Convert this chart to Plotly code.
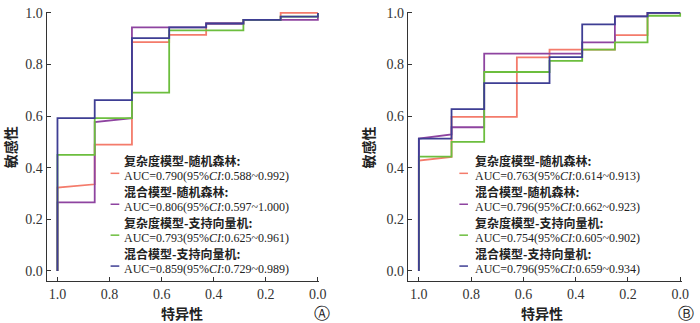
import plotly.graph_objects as go

# ---------------- data ----------------
series_names = ["复杂度模型-随机森林:", "混合模型-随机森林:", "复杂度模型-支持向量机:", "混合模型-支持向量机:"]
series_colors = ["#F47B6B", "#8E44A0", "#6CBE3E", "#3E3E94"]

auc_text_A = ["AUC=0.790(95%<i>CI</i>:0.588~0.992)", "AUC=0.806(95%<i>CI</i>:0.597~1.000)",
              "AUC=0.793(95%<i>CI</i>:0.625~0.961)", "AUC=0.859(95%<i>CI</i>:0.729~0.989)"]
auc_text_B = ["AUC=0.763(95%<i>CI</i>:0.614~0.913)", "AUC=0.796(95%<i>CI</i>:0.662~0.923)",
              "AUC=0.754(95%<i>CI</i>:0.605~0.902)", "AUC=0.796(95%<i>CI</i>:0.659~0.934)"]

# Panel A (specificity, sensitivity)
spec_A_cx_rf = [1.0, 1.0, 0.857, 0.857, 0.714, 0.714, 0.571, 0.571, 0.429, 0.429, 0.286, 0.286, 0.143, 0.143, 0.0]
sens_A_cx_rf = [0.0, 0.323, 0.336, 0.490, 0.490, 0.887, 0.887, 0.915, 0.915, 0.959, 0.959, 0.973, 0.973, 1.0, 1.0]
spec_A_mx_rf = [1.0, 1.0, 0.857, 0.857, 0.714, 0.714, 0.429, 0.429, 0.286, 0.286, 0.0, 0.0]
sens_A_mx_rf = [0.0, 0.266, 0.266, 0.577, 0.592, 0.944, 0.944, 0.959, 0.959, 0.973, 0.973, 1.0]
spec_A_cx_svm = [1.0, 1.0, 0.857, 0.857, 0.714, 0.714, 0.571, 0.571, 0.286, 0.286, 0.143, 0.143, 0.0, 0.0]
sens_A_cx_svm = [0.0, 0.450, 0.450, 0.592, 0.592, 0.691, 0.691, 0.932, 0.932, 0.973, 0.973, 0.986, 0.986, 1.0]
spec_A_mx_svm = [1.0, 1.0, 0.857, 0.857, 0.714, 0.714, 0.571, 0.571, 0.429, 0.429, 0.286, 0.286, 0.143, 0.143, 0.0, 0.0]
sens_A_mx_svm = [0.0, 0.592, 0.592, 0.662, 0.662, 0.902, 0.902, 0.944, 0.944, 0.959, 0.959, 0.973, 0.973, 0.986, 0.986, 1.0]

# Panel B
spec_B_cx_rf = [1.0, 1.0, 0.875, 0.875, 0.625, 0.625, 0.5, 0.5, 0.25, 0.25, 0.125, 0.125, 0.0]
sens_B_cx_rf = [0.0, 0.428, 0.442, 0.597, 0.597, 0.828, 0.828, 0.858, 0.858, 0.914, 0.914, 1.0, 1.0]
spec_B_mx_rf = [1.0, 1.0, 0.875, 0.875, 0.75, 0.75, 0.375, 0.375, 0.25, 0.25, 0.125, 0.125, 0.0]
sens_B_mx_rf = [0.0, 0.513, 0.529, 0.557, 0.557, 0.842, 0.842, 0.886, 0.886, 0.987, 0.987, 1.0, 1.0]
spec_B_cx_svm = [1.0, 1.0, 0.875, 0.875, 0.75, 0.75, 0.5, 0.5, 0.375, 0.375, 0.25, 0.25, 0.125, 0.125, 0.0, 0.0]
sens_B_cx_svm = [0.0, 0.443, 0.443, 0.500, 0.500, 0.771, 0.771, 0.814, 0.814, 0.858, 0.858, 0.886, 0.886, 0.989, 0.989, 1.0]
spec_B_mx_svm = [1.0, 1.0, 0.875, 0.875, 0.75, 0.75, 0.5, 0.5, 0.375, 0.375, 0.25, 0.25, 0.125, 0.125, 0.0]
sens_B_mx_svm = [0.0, 0.513, 0.513, 0.627, 0.627, 0.728, 0.728, 0.829, 0.829, 0.956, 0.956, 0.987, 0.987, 1.0, 1.0]

tick_vals = [0.0, 0.2, 0.4, 0.6, 0.8, 1.0]
tick_text = ["0.0", "0.2", "0.4", "0.6", "0.8", "1.0"]
x_title = "特异性"
y_title = "敏感性"
panel_labels = ["Ⓐ", "Ⓑ"]

# ---------------- figure ----------------
W, H = 700, 323
def px(x):
    return x / W
def py(y):
    return (H - y) / H

fig = go.Figure()
panels = [
    ("x", "y", [(spec_A_cx_rf, sens_A_cx_rf), (spec_A_mx_rf, sens_A_mx_rf),
                (spec_A_cx_svm, sens_A_cx_svm), (spec_A_mx_svm, sens_A_mx_svm)]),
    ("x2", "y2", [(spec_B_cx_rf, sens_B_cx_rf), (spec_B_mx_rf, sens_B_mx_rf),
                  (spec_B_cx_svm, sens_B_cx_svm), (spec_B_mx_svm, sens_B_mx_svm)]),
]
for xa, ya, curves in panels:
    for (sx, sy), name, col in zip(curves, series_names, series_colors):
        fig.add_trace(go.Scatter(x=sx, y=sy, mode="lines", name=name, xaxis=xa, yaxis=ya,
                                 line=dict(color=col, width=1.8), showlegend=False))

tick_font = dict(family="Liberation Serif, Times New Roman, serif", size=14, color="#333333")
axis_common = dict(showline=True, linecolor="#333333", linewidth=1, ticks="inside", ticklen=4,
                   tickcolor="#333333", tickwidth=1, tickvals=tick_vals, ticktext=tick_text,
                   tickfont=tick_font, showgrid=False, zeroline=False, fixedrange=True,
                   ticklabeloverflow="allow")

y_dom = [py(280), py(6)]
fig.update_layout(
    width=W, height=H, margin=dict(l=0, r=0, t=0, b=0),
    paper_bgcolor="white", plot_bgcolor="white", showlegend=False,
    xaxis=dict(domain=[px(47), px(322.4)], range=[1.042, -0.005], anchor="y", **axis_common),
    yaxis=dict(domain=y_dom, range=[-0.038, 1.004], anchor="x", **axis_common),
    xaxis2=dict(domain=[px(412), px(688.4)], range=[1.042, -0.005], anchor="y2", **axis_common),
    yaxis2=dict(domain=y_dom, range=[-0.038, 1.004], anchor="x2", **axis_common),
)

cjk_font = dict(family="Noto Sans CJK SC", size=12, color="#222222", weight="bold")
auc_font = dict(family="Liberation Serif, Times New Roman, serif", size=12, color="#222222")
title_font = dict(family="Noto Sans CJK SC", size=14, color="#222222", weight="bold")

annotations = []
shapes = []
legend_specs = [(124, 111.7, 120.5, auc_text_A), (478.3, 464, 472.7, auc_text_B)]
pitch = 15.75
last_auc = 268.0
first = last_auc - 7 * pitch
for tx, kx0, kx1, aucs in legend_specs:
    for i in range(4):
        ycjk = first + 2 * i * pitch
        yauc = ycjk + pitch
        annotations.append(dict(x=px(tx), y=py(ycjk), xref="paper", yref="paper", text=series_names[i],
                                showarrow=False, xanchor="left", yanchor="middle", font=cjk_font,
                                borderpad=0))
        annotations.append(dict(x=px(tx), y=py(yauc), xref="paper", yref="paper", text=aucs[i],
                                showarrow=False, xanchor="left", yanchor="middle", font=auc_font,
                                borderpad=0))
        ky = yauc - 3
        shapes.append(dict(type="line", xref="paper", yref="paper", x0=px(kx0), x1=px(kx1),
                           y0=py(ky), y1=py(ky), line=dict(color=series_colors[i], width=1.5)))

# axis titles and panel labels
for cx in [184, 547]:
    annotations.append(dict(x=px(cx), y=py(313), xref="paper", yref="paper", text=x_title, showarrow=False,
                            xanchor="center", yanchor="middle", font=title_font))
for lx, lab in [(325, panel_labels[0]), (693, panel_labels[1])]:
    annotations.append(dict(x=px(lx), y=py(313), xref="paper", yref="paper", text=lab, showarrow=False,
                            xanchor="center", yanchor="middle",
                            font=dict(family="DejaVu Sans", size=16, color="#222222")))
for cx in [10, 372]:
    annotations.append(dict(x=px(cx), y=py(144), xref="paper", yref="paper", text=y_title, showarrow=False,
                            xanchor="center", yanchor="middle", textangle=-90, font=title_font))

fig.update_layout(annotations=annotations, shapes=shapes)
fig.write_html("out.html")
